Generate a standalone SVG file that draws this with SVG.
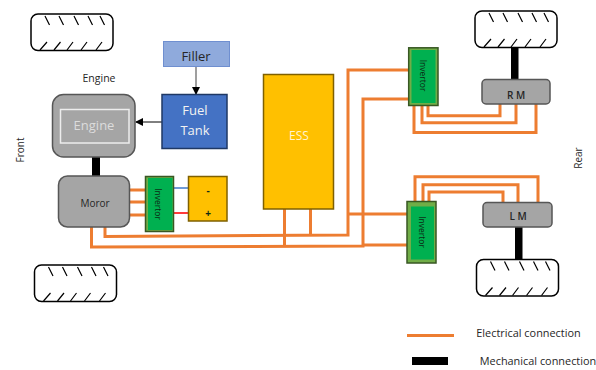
<svg xmlns="http://www.w3.org/2000/svg" width="596" height="370" viewBox="0 0 596 370">
<style>
text{font-family:"Open Sans","Noto Sans","Liberation Sans",sans-serif;text-anchor:middle}
.w{fill:none;stroke:#ed7d31;stroke-width:3}
.s{fill:#000}
.t{fill:#fff;stroke:#000;stroke-width:1.5}
.k{fill:none;stroke:#000;stroke-width:1.2}
.g{fill:#a5a5a5;stroke:#565656;stroke-width:1.5}
.y{fill:#ffc000;stroke:#7f6000;stroke-width:1.5}
.iv{fill:#70ad47;stroke:#385723;stroke-width:1.5}
.ii{fill:#00b050}
.d{fill:#262626}
.n{fill:#0c2a14}
.l{fill:#f2f2f2}
</style>
<defs>
<g id="tire">
<rect class="t" x="0" y="0" width="82" height="36.500" rx="7"/>
<path class="k" d="M14 2l4.500 9M28 2l4.500 9M43 2l4.500 9M57 2l4.500 9M69 2l4.500 9M9 36l7-8M23 36l6.500-8M36 36l6-8M50 36l6-8M65 36l6-8"/>
</g>
<marker id="a" markerWidth="8" markerHeight="8" refX="7" refY="4" orient="auto" markerUnits="userSpaceOnUse"><path d="M0 0L8 4L0 8Z" fill="#000"/></marker>
</defs>
<g id="connectors">
<path class="w" d="M130 190H146M130 202H146M130 215H146"/>
<path d="M173 188H189" fill="none" stroke="#6f9bd8" stroke-width="2"/>
<path d="M173 213H189" fill="none" stroke="#ff3b3b" stroke-width="2"/>
<path class="w" d="M91.500 227V247L363 246V99H409"/>
<path class="w" d="M105 227V236.500L348 235V70H409"/>
<path class="w" d="M284.500 209V246M310.500 209V235"/>
<path class="w" d="M348 214H408M363 245H408"/>
<path class="w" d="M414 105V132.500H536V104M422 105V122.800H516V104M428 105V115.700H500V104"/>
<path class="w" d="M415 202V176.700H538V202M423 202V184.700H518V202M429 202V192H503V202"/>
<path d="M196 66V94" fill="none" stroke="#7f7f7f" stroke-width="1.500" marker-end="url(#a)"/>
<path d="M162 122H136" fill="none" stroke="#000" stroke-width="1" marker-end="url(#a)"/>
<rect class="s" x="92" y="157" width="8" height="19"/>
<rect class="s" x="511" y="48" width="7.500" height="32"/>
<rect class="s" x="515" y="227" width="7.500" height="33"/>
</g>
<g id="tire-front-top"><use href="#tire" x="31" y="14"/></g>
<g id="tire-front-bottom"><use href="#tire" x="34.500" y="265"/></g>
<g id="tire-rear-top"><use href="#tire" x="475" y="11"/></g>
<g id="tire-rear-bottom"><use href="#tire" x="476.500" y="259.500"/></g>
<g id="filler">
<rect x="163.500" y="41.500" width="66" height="25" fill="#8faadc" stroke="#6f8fd0"/>
<text class="d" x="196" y="61" font-size="13">Filler</text>
</g>
<g id="fuel-tank">
<rect x="162" y="94.500" width="65" height="54" fill="#4472c4" stroke="#1f3864" stroke-width="1.500"/>
<text class="l" x="195" y="115" font-size="13">Fuel</text>
<text class="l" x="195" y="135" font-size="13">Tank</text>
</g>
<g id="engine">
<rect class="g" x="52.500" y="94.500" width="82.500" height="62.500" rx="11"/>
<rect x="60.500" y="109.500" width="68.500" height="33.500" fill="none" stroke="#ededed" stroke-width="1.500"/>
<text x="94" y="130" font-size="13" fill="#dcdcdc">Engine</text>
</g>
<g id="engine-label"><text class="d" x="99" y="82" font-size="10.500">Engine</text></g>
<g id="front-label"><text class="d" transform="translate(24 150) rotate(-90)" font-size="10">Front</text></g>
<g id="rear-label"><text class="d" transform="translate(582 158) rotate(-90)" font-size="10">Rear</text></g>
<g id="motor">
<rect class="g" x="58.500" y="176" width="71" height="51" rx="9"/>
<text class="d" x="95" y="206.500" font-size="10">Moror</text>
</g>
<g id="inverter-front">
<rect class="iv" x="145.500" y="176.500" width="28" height="55"/>
<rect class="ii" x="148" y="178" width="24.500" height="52"/>
<text class="n" transform="translate(155 204) rotate(90)" font-size="8.500">Invertor</text>
</g>
<g id="battery">
<rect class="y" x="188.500" y="176.500" width="38.500" height="44.500"/>
<text class="n" x="208" y="194" font-size="10" font-weight="700">-</text>
<text class="n" x="208" y="217" font-size="10" font-weight="700">+</text>
</g>
<g id="ess">
<rect class="y" x="263.500" y="74.500" width="70" height="134.500"/>
<text x="299" y="140" font-size="12" fill="#fff4d0">ESS</text>
</g>
<g id="inverter-rear-top">
<rect class="iv" x="408.700" y="47.800" width="29.300" height="57.700"/>
<rect class="ii" x="411.500" y="50" width="24" height="53"/>
<text class="n" transform="translate(419.500 75.500) rotate(90)" font-size="8.500">Invertor</text>
</g>
<g id="rm">
<rect class="g" x="482" y="79.500" width="68" height="24.500" rx="4"/>
<text class="d" x="516" y="98.500" font-size="10" font-weight="600">R M</text>
</g>
<g id="inverter-rear-bottom">
<rect class="iv" x="407" y="201.500" width="29" height="61.500"/>
<rect class="ii" x="411" y="206.500" width="23" height="53"/>
<text class="n" transform="translate(419 232) rotate(90)" font-size="8.500">Invertor</text>
</g>
<g id="lm">
<rect class="g" x="483" y="202.500" width="69" height="24.500" rx="4"/>
<text class="d" x="518" y="219.500" font-size="10" font-weight="600">L M</text>
</g>
<g id="legend">
<path d="M407 335.500H454" fill="none" stroke="#ed7d31" stroke-width="3"/>
<rect class="s" x="412" y="357" width="36" height="8"/>
<text class="d" x="528.500" y="337" font-size="10.900">Electrical connection</text>
<text class="d" x="538" y="365" font-size="10.900">Mechanical connection</text>
</g>
</svg>
